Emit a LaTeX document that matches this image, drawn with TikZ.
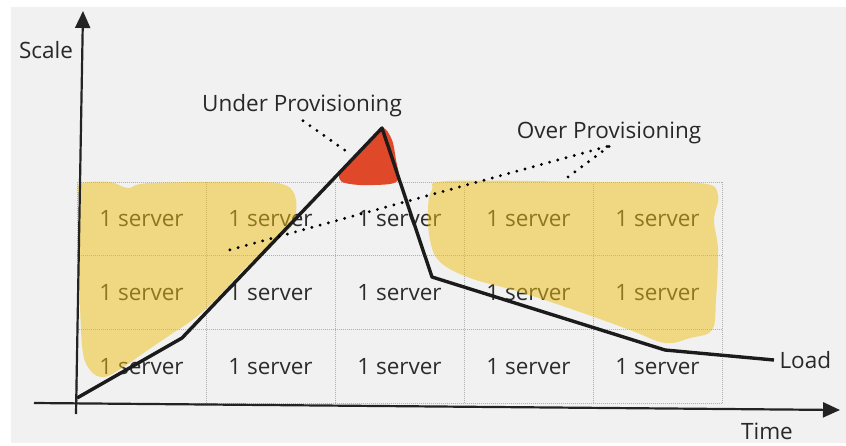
\documentclass[tikz,border=0pt]{standalone}
\usepackage{fontspec}
\setmainfont{Open Sans}
\usetikzlibrary{arrows.meta}

\definecolor{bggray}{RGB}{241,241,241}
\definecolor{txtgray}{RGB}{44,44,44}
\definecolor{gridgray}{RGB}{175,175,175}
\definecolor{overyellow}{RGB}{240,190,20}
\definecolor{underred}{RGB}{224,72,42}

\begin{document}
\begin{tikzpicture}[x=1pt, y=-1pt]

  \tikzstyle{axis} = [line width=2.2, txtgray!80!black, -{Triangle[length=17pt, width=15pt]}]
  \tikzstyle{cell} = [font=\fontsize{22.5}{26}\selectfont, text=txtgray]
  \tikzstyle{label} = [font=\fontsize{22.5}{26}\selectfont, text=txtgray!90!black]
  \tikzstyle{pointer} = [line width=3.2, line cap=round, dash pattern=on 0pt off 8.5pt, black]
  \tikzstyle{blob} = [fill opacity=0.5, draw=none]

  \useasboundingbox (0,0) rectangle (846,445);
  \fill[white] (0,0) rectangle (846,445);
  \fill[bggray] (11,7) rectangle (846,443);

  % grid of servers
  \foreach \c in {0,...,5}
    \draw[gridgray, densely dotted, line width=1] (77+129*\c,182) -- (77+129*\c,403);
  \foreach \r in {0,...,3}
    \draw[gridgray, densely dotted, line width=1] (77,182+73.67*\r) -- (722,182+73.67*\r);

  \foreach \c in {0,...,4}
    \foreach \r in {0,1,2}
      \node[cell] (cell-\c-\r) at (141.5+129*\c, 218.8+73.67*\r) {1 server};

  % over provisioning
  \fill[overyellow, blob] plot[smooth cycle, tension=0.6] coordinates {
    (80,184) (110,182) (128,188) (150,183) (250,182) (285,185) (296,200)
    (292,225) (270,245) (245,268) (220,295) (195,318) (170,335) (145,352)
    (122,368) (104,377) (90,370) (82,345) (79,260) (79,200)};
  \fill[overyellow, blob] plot[smooth cycle, tension=0.6] coordinates {
    (432,190) (450,181) (600,182) (700,183) (718,195) (714,220) (718,250)
    (716,300) (712,330) (690,338) (665,343) (630,330) (580,312) (520,292)
    (470,278) (440,262) (430,240) (428,210)};

  % under provisioning
  \fill[underred] plot[smooth cycle, tension=0.5] coordinates {
    (343,168) (362,150) (382,128) (392,140) (396,160) (399,178) (390,184)
    (360,185) (342,182) (339,175)};

  % axes
  \coordinate (yfoot) at (76,414);
  \coordinate (ytip) at (83,11);
  \coordinate (xfoot) at (34,403);
  \coordinate (xtip) at (840,410);
  \draw[axis] (yfoot) -- (ytip);
  \draw[axis] (xfoot) -- (xtip);

  \node[label] (scale) at (46,50) {Scale};
  \node[label] (time) at (767,431) {Time};

  % load curve
  \coordinate (l0) at (77,398);
  \coordinate (l1) at (182,338);
  \coordinate (l2) at (382,128);
  \coordinate (l3) at (432,277);
  \coordinate (l4) at (665,350);
  \coordinate (l5) at (774,360);
  \draw[line width=3.4, line join=round, txtgray!60!black] (l0) -- (l1) -- (l2) -- (l3) -- (l4) -- (l5);
  \node[label, anchor=west] (load) at ([xshift=2]l5) {Load};

  % pointers
  \node[label] (under) at (302,106) {Under Provisioning};
  \node[label] (over) at (609,133) {Over Provisioning};
  \coordinate (underend) at (346,151);
  \coordinate (overleft) at (222,252);
  \coordinate (overright) at (568,177);
  \draw[pointer] ([xshift=1]under.south) -- (underend);
  \draw[pointer] ([xshift=-2,yshift=1]over.south) -- (overleft);
  \draw[pointer] ([xshift=0,yshift=1]over.south) -- (overright);

\end{tikzpicture}
\end{document}
